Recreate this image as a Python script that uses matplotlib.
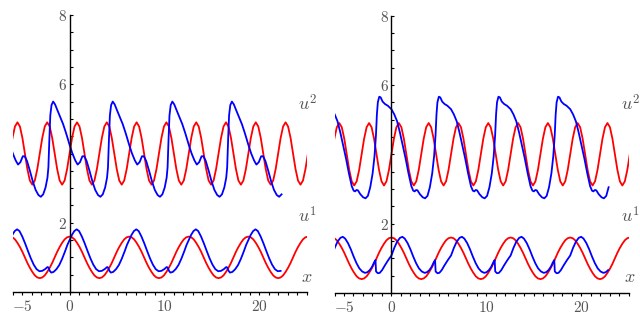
import numpy as np
import matplotlib.pyplot as plt
from matplotlib.ticker import MultipleLocator

plt.rcParams['mathtext.fontset'] = 'cm'

TWO_PI = 2 * np.pi

red_u1 = [1.60, 1.58, 1.52, 1.42, 1.30, 1.16, 1.00, 0.84, 0.70, 0.58, 0.48, 0.42,
          0.40, 0.42, 0.48, 0.58, 0.70, 0.84, 1.00, 1.16, 1.30, 1.42, 1.52, 1.58]
red_u2 = [4.00, 4.45, 4.78, 4.90, 4.78, 4.45, 4.00, 3.55, 3.22, 3.10, 3.22, 3.55,
          4.00, 4.45, 4.78, 4.90, 4.78, 4.45, 4.00, 3.55, 3.22, 3.10, 3.22, 3.55]

# blue curves: one period (0..2pi) as knots
left_u1_t = [0.0, 0.25, 0.5, 0.75, 1.0, 1.3, 1.6, 1.9, 2.2, 2.5, 2.8, 3.1, 3.4, 3.7,
             3.95, 4.05, 4.2, 4.35, 4.6, 4.9, 5.2, 5.5, 5.8, 6.05]
left_u1_y = [1.50, 1.65, 1.76, 1.81, 1.76, 1.60, 1.40, 1.18, 0.97, 0.79, 0.66, 0.60, 0.61, 0.66,
             0.72, 0.71, 0.61, 0.56, 0.58, 0.66, 0.78, 0.96, 1.17, 1.36]

left_u2_t = [0.0, 0.3, 0.6, 0.85, 1.1, 1.35, 1.55, 1.8, 2.1, 2.4, 2.7, 3.0, 3.25, 3.5,
             3.75, 3.95, 4.05, 4.15, 4.25, 4.38, 4.55, 4.75, 5.0, 5.3, 5.6, 5.9, 6.1]
left_u2_y = [4.25, 4.00, 3.80, 3.68, 3.75, 3.92, 3.92, 3.78, 3.50, 3.20, 2.95, 2.80, 2.75, 2.82,
             3.02, 3.30, 3.60, 4.40, 5.10, 5.40, 5.50, 5.42, 5.25, 5.05, 4.85, 4.60, 4.42]

right_u1_t = [0.0, 0.3, 0.6, 0.9, 1.15, 1.4, 1.7, 2.0, 2.3, 2.6, 2.9, 3.2, 3.5, 3.75,
              4.0, 4.25, 4.45, 4.6, 4.66, 4.85, 5.05, 5.3, 5.6, 5.9, 6.1]
right_u1_y = [1.08, 1.30, 1.48, 1.59, 1.62, 1.57, 1.44, 1.26, 1.05, 0.86, 0.71, 0.62, 0.58, 0.60,
              0.66, 0.76, 0.88, 0.95, 0.62, 0.57, 0.58, 0.66, 0.80, 0.93, 1.01]

right_u2_t = [0.0, 0.3, 0.6, 0.9, 1.2, 1.5, 1.8, 2.1, 2.3, 2.45, 2.6, 2.75, 3.0, 3.3,
              3.55, 3.8, 4.05, 4.3, 4.5, 4.65, 4.75, 4.85, 5.0, 5.15, 5.35, 5.6, 5.9, 6.1]
right_u2_y = [5.30, 5.15, 4.95, 4.62, 4.25, 3.87, 3.45, 3.08, 2.95, 2.93, 2.97, 2.96, 2.85, 2.76,
              2.73, 2.80, 3.05, 3.45, 3.95, 4.55, 5.15, 5.50, 5.66, 5.64, 5.52, 5.45, 5.40, 5.35]

blue_end = [22.4, 22.9]

xticks = [-5, 0, 10, 20]
xlabels = ['$-5$', '$0$', '$10$', '$20$']
yticks = [2, 6, 8]
ylabels = ['$2$', '$6$', '$8$']

RED_T = np.arange(24) * TWO_PI / 24


def unroll(t, y, t0, t1):
    t = np.asarray(t)
    y = np.asarray(y)
    ts = np.concatenate([t + k * TWO_PI for k in range(-2, 5)])
    ys = np.tile(y, 7)
    m = (ts >= t0) & (ts <= t1)
    return ts[m], ys[m]


def setup(ax):
    ax.set_xlim(-6, 25)
    ax.set_ylim(0, 8)
    for s in ['top', 'right']:
        ax.spines[s].set_visible(False)
    ax.spines['left'].set_position(('data', 0))
    ax.spines['left'].set_linewidth(1.0)
    ax.spines['bottom'].set_linewidth(1.0)
    ax.set_xticks(xticks, xlabels)
    ax.set_yticks(yticks, ylabels)
    ax.xaxis.set_minor_locator(MultipleLocator(1))
    ax.yaxis.set_minor_locator(MultipleLocator(0.5))
    ax.tick_params(axis='x', which='both', direction='out', length=2.5, width=0.8,
                   pad=2.5, labelsize=11, labelcolor='#555555')
    ax.tick_params(axis='y', which='both', direction='in', length=2.2, width=0.8,
                   pad=2, labelsize=11, labelcolor='#555555')
    ax.patch.set_alpha(0)


fig = plt.figure(figsize=(6.4, 3.2), dpi=100)
ax1 = fig.add_axes([0.0198, 0.0875, 0.4594, 0.8656])
ax2 = fig.add_axes([0.5227, 0.0844, 0.4594, 0.867])

panels = [
    (ax1, left_u1_t, left_u1_y, left_u2_t, left_u2_y, blue_end[0]),
    (ax2, right_u1_t, right_u1_y, right_u2_t, right_u2_y, blue_end[1]),
]

for ax, u1t, u1y, u2t, u2y, tend in panels:
    setup(ax)
    for vals in (red_u1, red_u2):
        t, y = unroll(RED_T, vals, -6.6, 25.5)
        ax.plot(t, y, color='#ff0000', lw=1.3)
    for tt, yy in ((u1t, u1y), (u2t, u2y)):
        t, y = unroll(tt, yy, -6.6, tend)
        ax.plot(t, y, color='#0000ff', lw=1.3)

# right-hand labels
for x0 in (0.4656, 0.9705):
    fig.text(x0, 0.656, '$u^2$', fontsize=13, color='#555555', va='baseline')
    fig.text(x0, 0.306, '$u^1$', fontsize=13, color='#555555', va='baseline')
    fig.text(x0 + 0.005, 0.119, '$x$', fontsize=13, color='#555555', va='baseline')

fig.savefig('out.png', dpi=100)
